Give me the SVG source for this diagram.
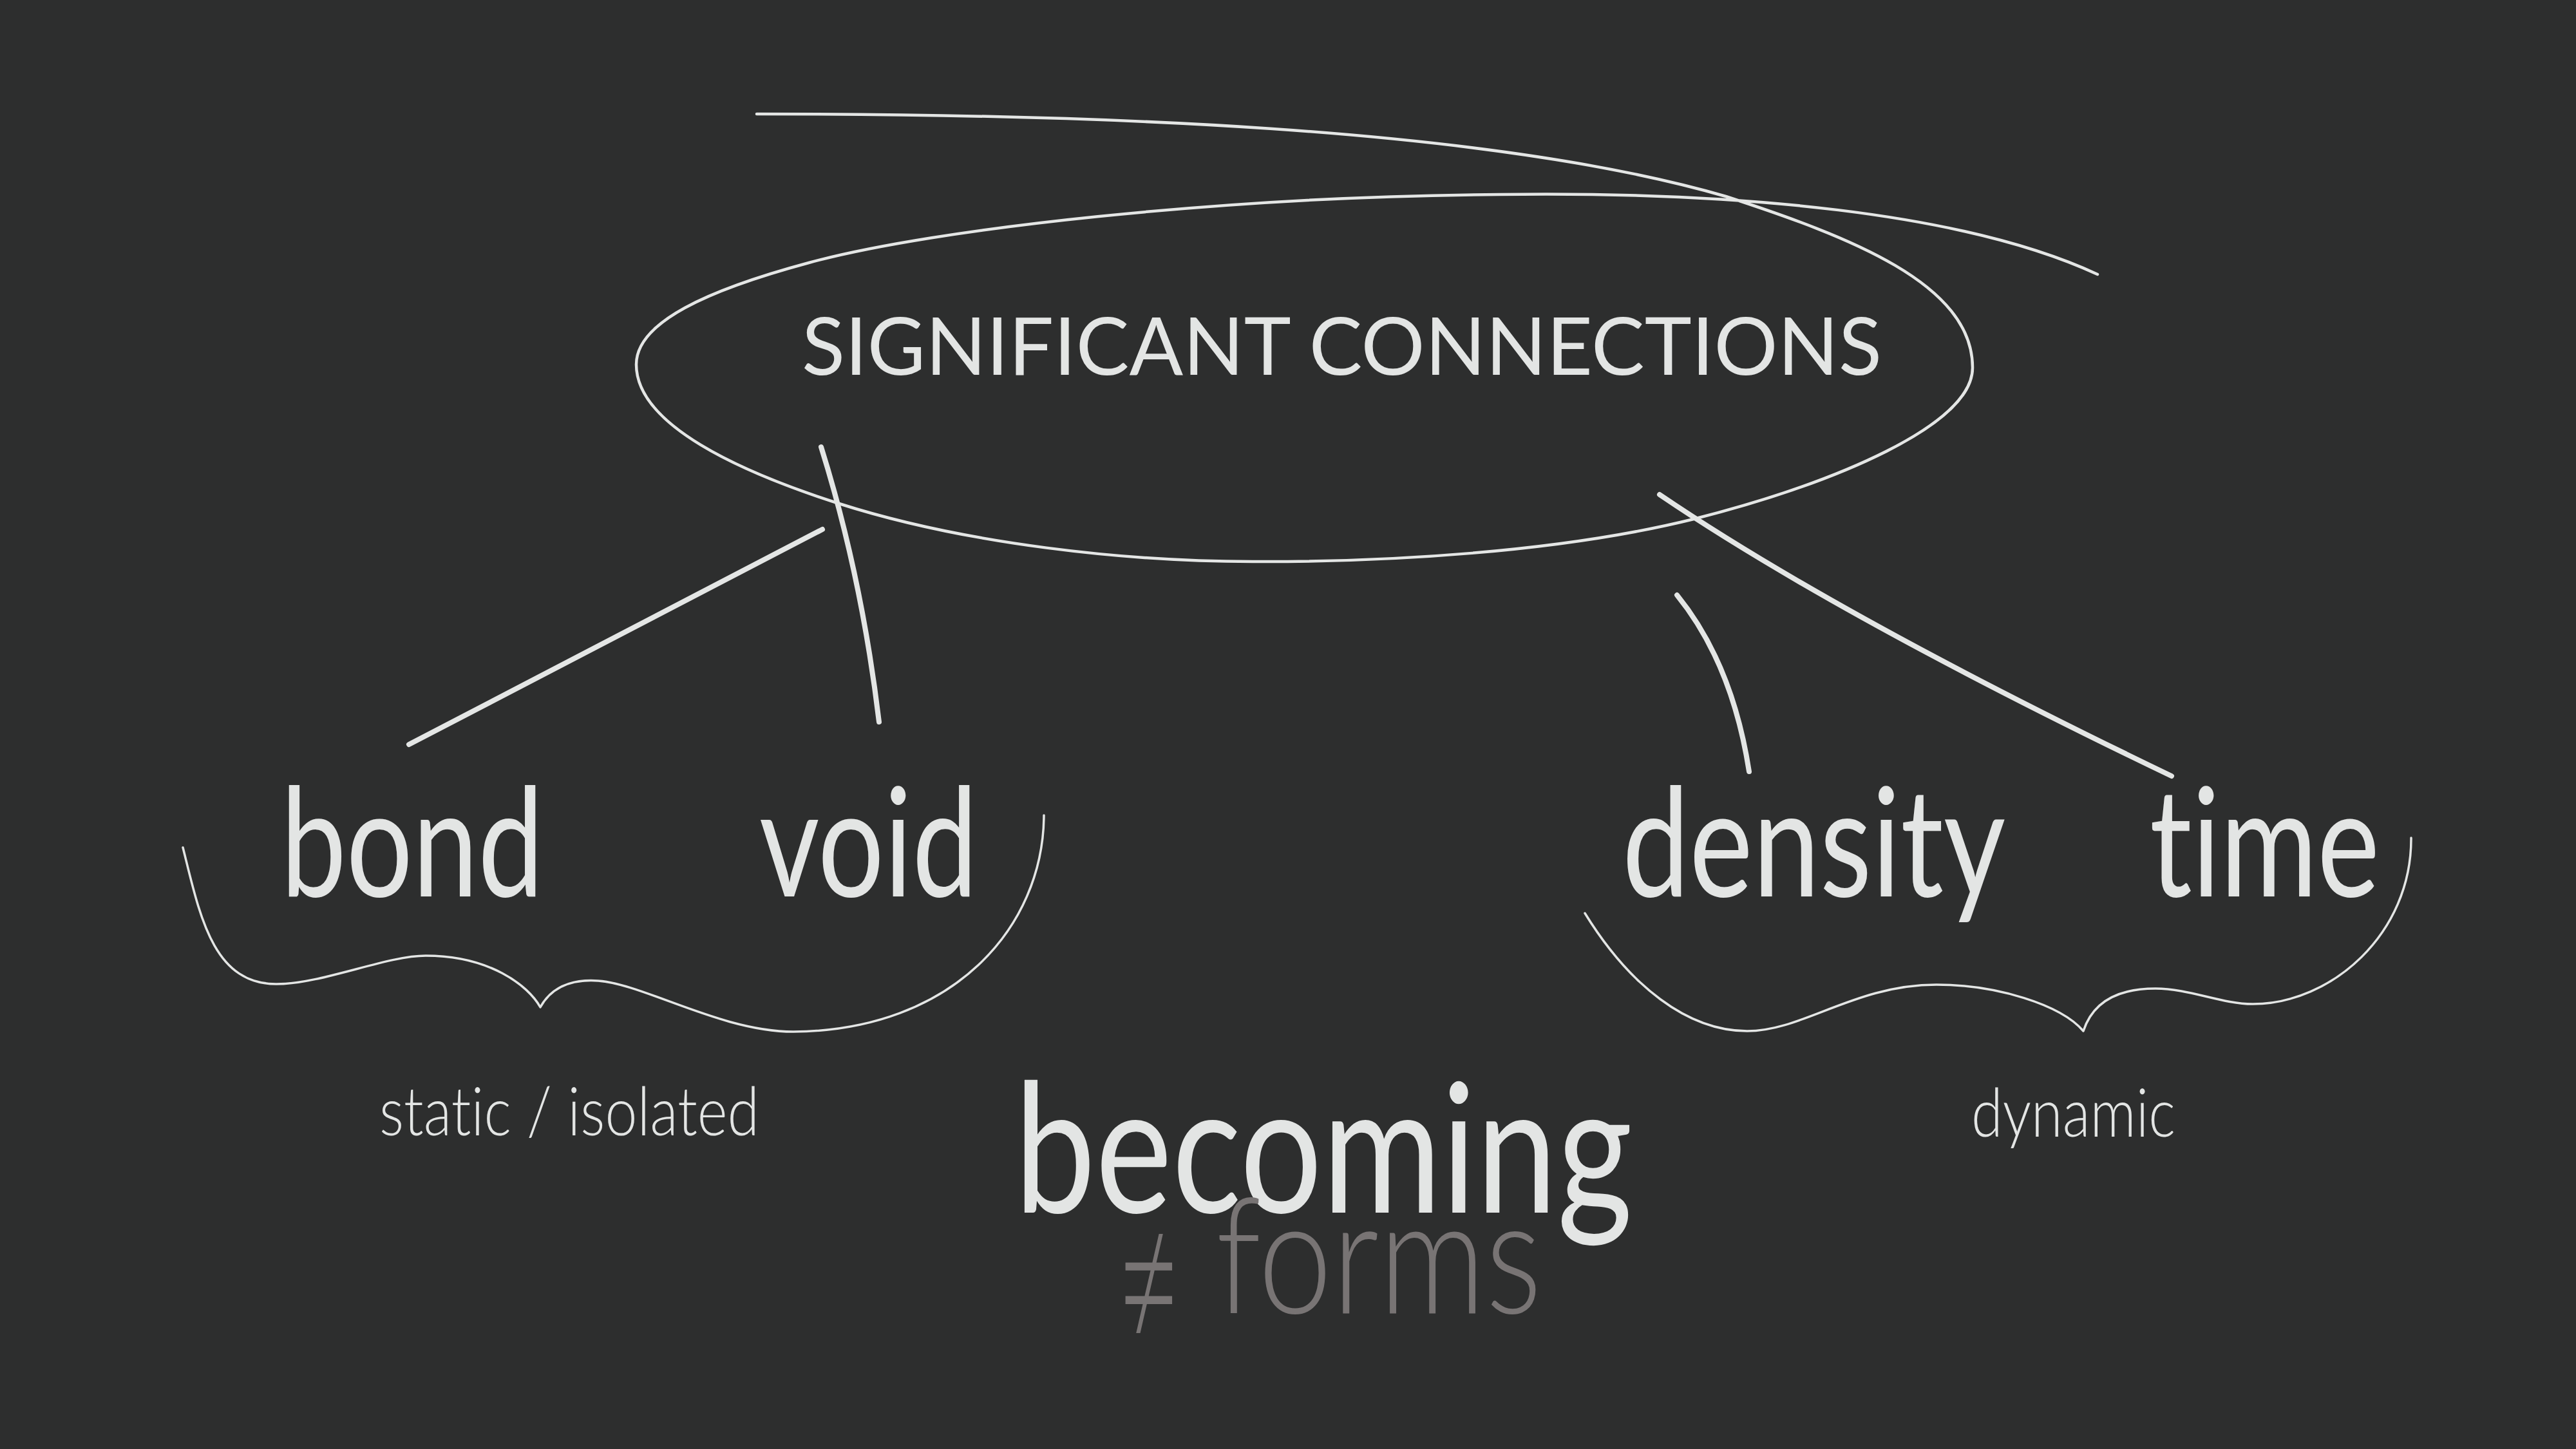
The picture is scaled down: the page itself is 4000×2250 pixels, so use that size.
<svg xmlns="http://www.w3.org/2000/svg" width="4000" height="2250" viewBox="0 0 4000 2250">
  <style>
    .bg { fill: #2d2e2e; }
    text { font-variant-ligatures: none; font-feature-settings: "liga" 0, "clig" 0; }
    .txt { fill: #e3e5e4; font-family: Lato, "Open Sans", "Liberation Sans", sans-serif; }
    .word { font-size: 235px; font-weight: 400; }
    .small { font-size: 105px; font-weight: 300; }
    .title { font-size: 125px; font-weight: 400; }
    .big { font-size: 280px; font-weight: 400; }
    .gray { fill: #787474; font-family: Lato, "Open Sans", "Liberation Sans", sans-serif; font-weight: 300; }
    .loop { fill: none; stroke: #e4e6e5; stroke-width: 4.5; stroke-linecap: round; stroke-linejoin: round; }
    .brace { fill: none; stroke: #e4e6e5; stroke-width: 3.5; stroke-linecap: round; stroke-linejoin: round; }
    .conn { fill: none; stroke: #e4e6e5; stroke-width: 8; stroke-linecap: round; }
  </style>
  <rect class="bg" x="0" y="0" width="4000" height="2250"/>

  <g id="significant-connections">
    <path class="loop" d="M1175,177 C1675,177 2300,195 2680,305 C2870,367 3063,440 3063,571 C3063,660 2850,750 2630,806 C2420,858 2150,873 1945,872 C1750,872 1500,845 1303,782 C1150,733 988,660 988,566 C988,500 1100,450 1256,408 C1450,355 1900,305 2328,302 C2700,297 3050,330 3257,426"/>
    <text class="txt title" x="1245" y="582" textLength="1677" lengthAdjust="spacingAndGlyphs">SIGNIFICANT CONNECTIONS</text>
  </g>

  <g id="connectors">
    <path class="conn" d="M1277,822 L635,1156"/>
    <path class="conn" d="M1275,694 Q1338,895 1365,1121"/>
    <path class="conn" d="M2604,924 Q2690,1030 2716,1198"/>
    <path class="conn" d="M2577,768 Q2854,956 3372,1205"/>
  </g>

  <g id="node-bond">
    <text class="txt word" x="436" y="1392" textLength="408" lengthAdjust="spacingAndGlyphs">bond</text>
  </g>
  <g id="node-void">
    <text class="txt word" x="1179" y="1392" textLength="339" lengthAdjust="spacingAndGlyphs">void</text>
  </g>
  <g id="brace-left">
    <path class="brace" d="M284,1316 C310,1420 330,1528 429,1528 C500,1528 600,1484 661,1484 C760,1484 820,1530 839,1564 C855,1535 885,1520 929,1523 C1000,1528 1120,1602 1232,1602 C1480,1600 1620,1440 1621,1266"/>
  </g>
  <g id="label-static">
    <text class="txt small" x="589" y="1763" textLength="590" lengthAdjust="spacingAndGlyphs">static / isolated</text>
  </g>

  <g id="node-density">
    <text class="txt word" x="2519" y="1392" textLength="595" lengthAdjust="spacingAndGlyphs">density</text>
  </g>
  <g id="node-time">
    <text class="txt word" x="3338" y="1392" textLength="357" lengthAdjust="spacingAndGlyphs">time</text>
  </g>
  <g id="brace-right">
    <path class="brace" d="M2461,1418 C2530,1530 2620,1601 2713,1601 C2800,1601 2880,1529 3007,1529 C3100,1529 3200,1560 3235,1601 C3250,1555 3290,1535 3347,1535 C3400,1535 3450,1559 3498,1559 C3620,1559 3745,1450 3744,1301"/>
  </g>
  <g id="label-dynamic">
    <text class="txt small" x="3061" y="1765" textLength="317" lengthAdjust="spacingAndGlyphs">dynamic</text>
  </g>

  <g id="node-becoming">
    <text class="txt big" x="1575" y="1883" textLength="960" lengthAdjust="spacingAndGlyphs">becoming</text>
  </g>
  <g id="node-forms">
    <text class="gray" x="0" y="0" font-size="175" font-family="'DejaVu Sans', sans-serif" font-weight="200" transform="translate(1733,2105) scale(1,1.9)">≠</text>
    <text class="gray" x="1888" y="2039" font-size="250" textLength="506" lengthAdjust="spacingAndGlyphs">forms</text>
  </g>
</svg>
